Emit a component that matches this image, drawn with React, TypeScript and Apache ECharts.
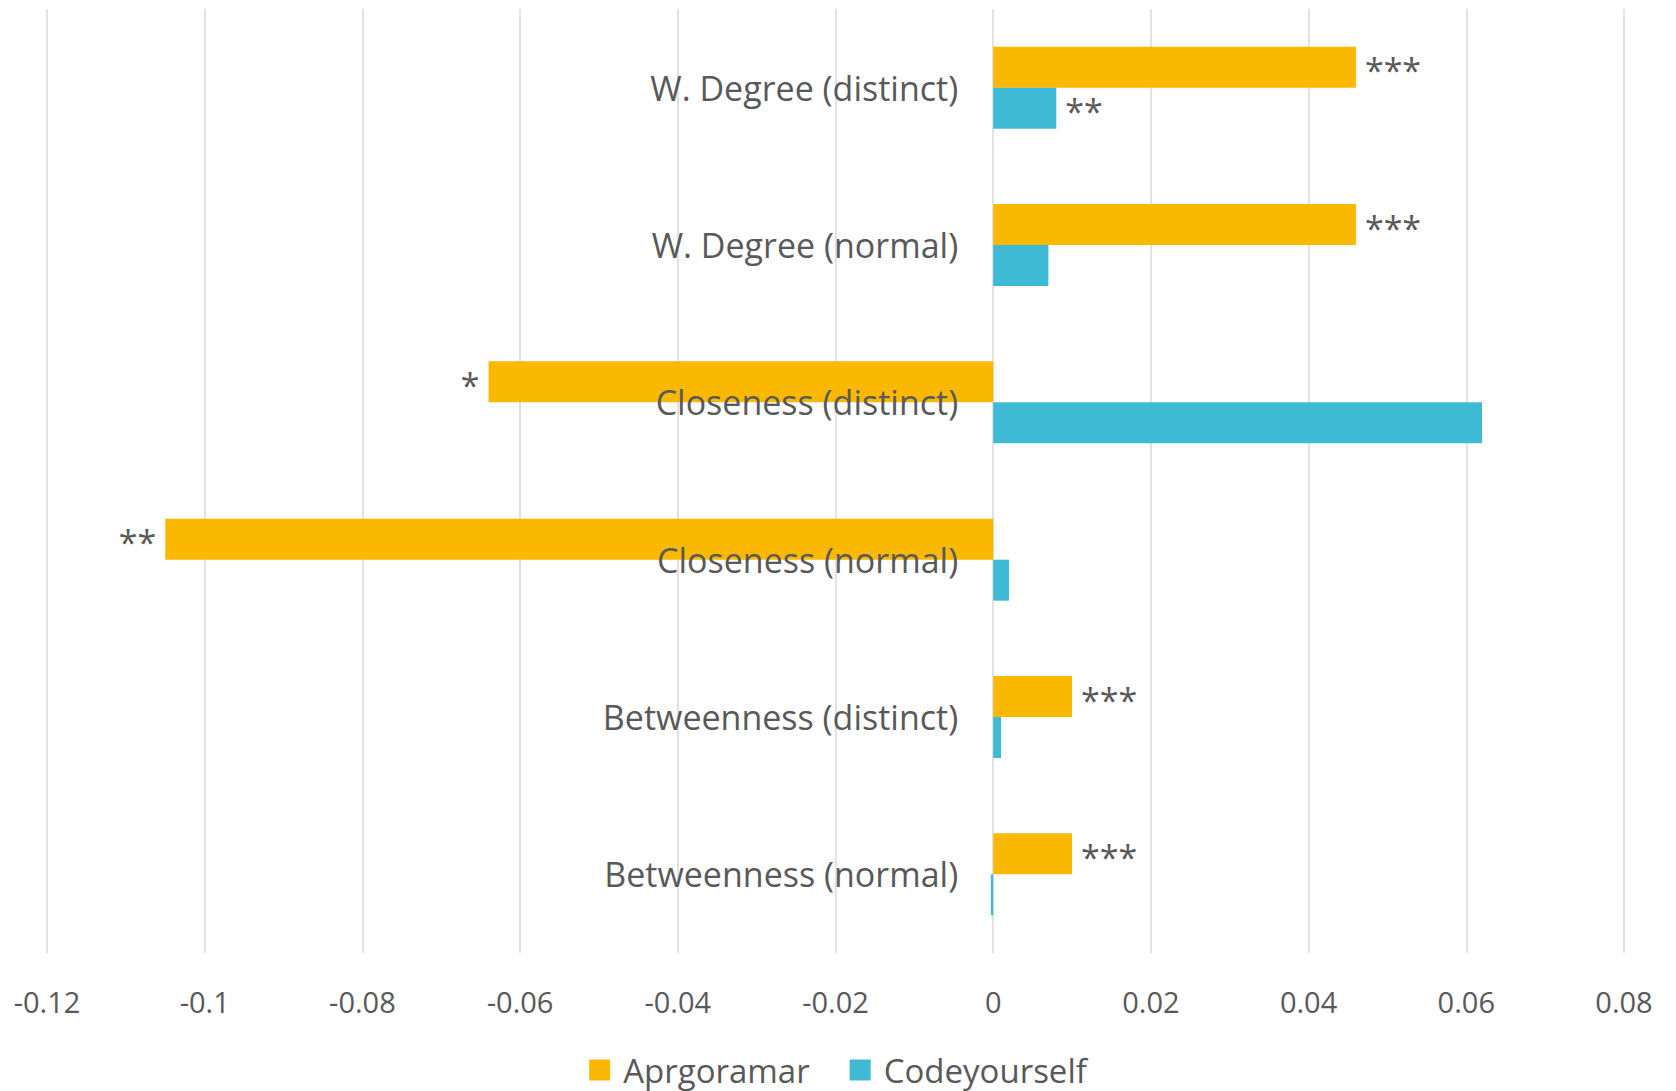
import React, { useEffect, useRef } from "react";
import * as echarts from "echarts";

const categories = [
  "W. Degree (distinct)",
  "W. Degree (normal)",
  "Closeness (distinct)",
  "Closeness (normal)",
  "Betweenness (distinct)",
  "Betweenness (normal)",
];

const aprgoramarValues = [0.046, 0.046, -0.064, -0.105, 0.01, 0.01];
const codeyourselfValues = [0.008, 0.007, 0.062, 0.002, 0.001, -0.0003];

const aprgoramarStars = ["***", "***", "*", "**", "***", "***"];
const codeyourselfStars = ["**", "", "", "", "", ""];

const xTicks = { min: -0.12, max: 0.08, interval: 0.02 };

const FONT = "'Open Sans', 'Noto Sans', sans-serif";
const TEXT = "#595959";

const GRID_LEFT = 47;
const GRID_RIGHT = 52;
const WIDTH = 1676;

function withStars(values: number[], stars: string[]) {
  return values.map((v, i) => ({
    value: v,
    label: {
      show: stars[i] !== "",
      position: v < 0 ? "left" : "right",
      formatter: stars[i],
    },
  }));
}

export default function App() {
  const ref = useRef<HTMLDivElement>(null);

  useEffect(() => {
    if (!ref.current) return;
    const chart = echarts.init(ref.current, undefined, { renderer: "svg" });

    // the category axis sits on the zero line of the value axis
    const plotWidth = WIDTH - GRID_LEFT - GRID_RIGHT;
    const zeroShift =
      (plotWidth * (0 - xTicks.min)) / (xTicks.max - xTicks.min);

    const starLabel = {
      fontFamily: FONT,
      fontSize: 34,
      color: TEXT,
      distance: 9,
      offset: [0, 3],
    };

    chart.setOption({
      animation: false,
      backgroundColor: "#ffffff",
      textStyle: { fontFamily: FONT },
      grid: {
        left: GRID_LEFT,
        right: GRID_RIGHT,
        top: 9,
        bottom: 138,
        containLabel: false,
        outerBoundsMode: "none",
      },
      legend: {
        top: 1045,
        left: "center",
        icon: "rect",
        itemWidth: 21,
        itemHeight: 21,
        itemGap: 40,
        textStyle: {
          fontFamily: FONT,
          fontSize: 33,
          color: TEXT,
          padding: [0, 0, 0, 8],
          lineHeight: 40,
        },
        data: ["Aprgoramar", "Codeyourself"],
      },
      xAxis: {
        type: "value",
        min: xTicks.min,
        max: xTicks.max,
        interval: xTicks.interval,
        axisLine: { show: false },
        axisTick: { show: false },
        splitLine: { show: true, lineStyle: { color: "#d9d9d9", width: 1.5 } },
        axisLabel: {
          fontFamily: FONT,
          fontSize: 29,
          color: TEXT,
          margin: 34,
        },
      },
      yAxis: {
        type: "category",
        inverse: true,
        data: categories,
        z: 10,
        offset: -zeroShift,
        axisLine: { show: false, onZero: false },
        axisTick: { show: false },
        splitLine: { show: false },
        axisLabel: {
          fontFamily: FONT,
          fontSize: 34,
          color: TEXT,
          margin: 35,
        },
      },
      series: [
        {
          name: "Aprgoramar",
          type: "bar",
          barWidth: 41,
          barGap: "0%",
          itemStyle: { color: "#FAB800" },
          label: starLabel,
          data: withStars(aprgoramarValues, aprgoramarStars),
        },
        {
          name: "Codeyourself",
          type: "bar",
          barWidth: 41,
          barGap: "0%",
          itemStyle: { color: "#3FBAD4" },
          label: starLabel,
          data: withStars(codeyourselfValues, codeyourselfStars),
        },
      ],
    });

    return () => chart.dispose();
  }, []);

  return (
    <div
      ref={ref}
      style={{ position: "fixed", left: 0, top: 0, width: WIDTH, height: 1091 }}
    />
  );
}
